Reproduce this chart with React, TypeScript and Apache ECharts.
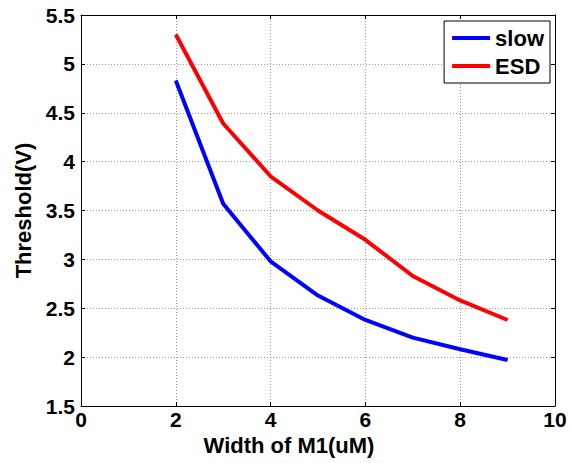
import React, { useEffect, useRef } from "react";
import * as echarts from "echarts";

const widths = [2, 3, 4, 5, 6, 7, 8, 9];
const slowValues = [4.83, 3.57, 2.98, 2.63, 2.38, 2.2, 2.08, 1.97];
const esdValues = [5.3, 4.39, 3.85, 3.5, 3.2, 2.83, 2.58, 2.38];
const seriesNames = ["slow", "ESD"];

const FONT = "Liberation Sans, Arial, sans-serif";

export default function App() {
  const ref = useRef<HTMLDivElement>(null);
  useEffect(() => {
    if (!ref.current) return;
    const chart = echarts.init(ref.current, null, { renderer: "svg" });
    const labelStyle = { color: "#000", fontFamily: FONT, fontWeight: "bold" as const, fontSize: 21 };
    const nameStyle = { ...labelStyle, fontSize: 22 };
    const gridLine = { show: true, lineStyle: { color: "#555", type: [1, 2] as any, width: 1, opacity: 0.6 } };
    chart.setOption({
      animation: false,
      backgroundColor: "#fff",
      grid: { left: 81, top: 15, right: 16, bottom: 57, containLabel: false },
      legend: {
        data: seriesNames,
        orient: "vertical",
        right: 21,
        top: 21,
        borderColor: "#000",
        borderWidth: 1,
        backgroundColor: "#fff",
        padding: [6, 6, 6, 8],
        itemGap: 6,
        icon: "rect",
        itemWidth: 38,
        itemHeight: 4,
        textStyle: { ...nameStyle, padding: [0, 0, 0, 0] },
      },
      xAxis: [
        {
          type: "value",
          min: 0,
          max: 10,
          interval: 2,
          name: "Width of M1(uM)",
          nameLocation: "middle",
          nameGap: 27,
          nameTextStyle: { ...nameStyle, padding: [0, 58, 0, 0] },
          axisLine: { show: true, lineStyle: { color: "#000", width: 1 } },
          axisTick: { show: true, inside: true, length: 4, lineStyle: { color: "#000" } },
          axisLabel: { ...labelStyle, margin: 3 },
          splitLine: gridLine,
        },
        {
          type: "value",
          position: "top",
          min: 0,
          max: 10,
          interval: 2,
          axisLine: { show: true, onZero: false, lineStyle: { color: "#000", width: 1 } },
          axisTick: { show: true, inside: true, length: 4, lineStyle: { color: "#000" } },
          axisLabel: { show: false },
          splitLine: { show: false },
        },
      ],
      yAxis: [
        {
          type: "value",
          min: 1.5,
          max: 5.5,
          interval: 0.5,
          name: "Threshold(V)",
          nameLocation: "middle",
          nameGap: 47,
          nameRotate: 90,
          nameTextStyle: nameStyle,
          axisLine: { show: true, lineStyle: { color: "#000", width: 1 } },
          axisTick: { show: true, inside: true, length: 4, lineStyle: { color: "#000" } },
          axisLabel: { ...labelStyle, margin: 6 },
          splitLine: gridLine,
        },
        {
          type: "value",
          position: "right",
          min: 1.5,
          max: 5.5,
          interval: 0.5,
          axisLine: { show: true, onZero: false, lineStyle: { color: "#000", width: 1 } },
          axisTick: { show: true, inside: true, length: 4, lineStyle: { color: "#000" } },
          axisLabel: { show: false },
          splitLine: { show: false },
        },
      ],
      series: [
        {
          name: seriesNames[0],
          type: "line",
          data: widths.map((w, i) => [w, slowValues[i]]),
          showSymbol: false,
          symbol: "none",
          color: "#0000ff",
          lineStyle: { color: "#0000ff", width: 4 },
        },
        {
          name: seriesNames[1],
          type: "line",
          data: widths.map((w, i) => [w, esdValues[i]]),
          showSymbol: false,
          symbol: "none",
          color: "#ff0000",
          lineStyle: { color: "#ff0000", width: 4 },
        },
      ],
    });
    return () => chart.dispose();
  }, []);
  return <div ref={ref} style={{ width: 571, height: 463, position: "absolute", left: 0, top: 0 }} />;
}
